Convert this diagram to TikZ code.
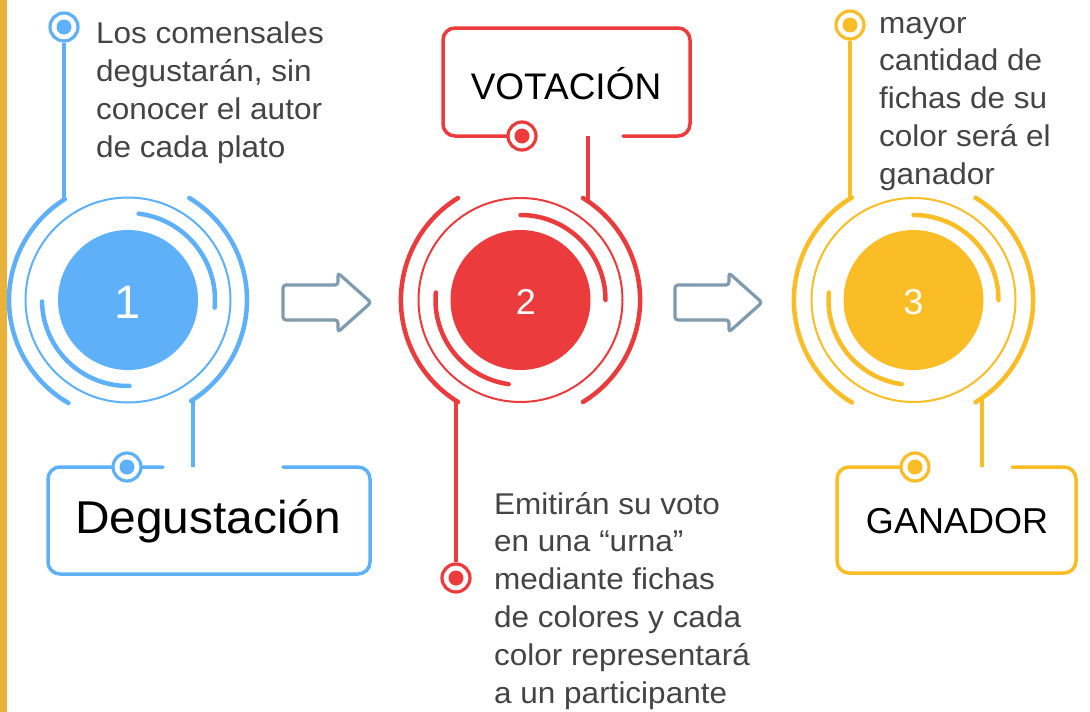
\documentclass[tikz,border=0pt]{standalone}
\usepackage{fontspec}
\setmainfont{Liberation Sans}
\newfontfamily\descfont[FakeStretch=1.05]{Liberation Sans}
\newfontfamily\degfont[FakeStretch=1.04]{Liberation Sans}
\definecolor{cblue}{HTML}{5EB1F8}
\definecolor{cred}{HTML}{EB3B3D}
\definecolor{cyel}{HTML}{FBBD26}
\definecolor{cgold}{HTML}{E9B23B}
\definecolor{cgray}{HTML}{444444}
\definecolor{carrow}{HTML}{7F9BB0}
\begin{document}
\begin{tikzpicture}[x=1pt,y=-1pt,
  outerarc/.style={line width=4.5pt, line cap=round},
  innerarc/.style={line width=4.5pt, line cap=round},
  thinring/.style={line width=2pt},
  conn/.style={line width=3.5pt},
  boxline/.style={line width=3.5pt, rounded corners=12pt, line cap=round},
  bigdisc/.style={circle, fill=#1, minimum size=140pt, inner sep=0pt},
  numtext/.style={text=white, inner sep=0pt},
  dotmark/.style={circle, draw=#1, fill=white, line width=3.2pt, minimum size=28pt, inner sep=0pt,
    path picture={\fill[#1] (path picture bounding box.center) circle (7.5pt);}},
  desc/.style={anchor=base west, align=left, inner sep=0pt, text=cgray,
    font=\descfont\fontsize{30}{37.8}\selectfont},
  boxlabel/.style={inner sep=0pt, text=black},
  arrowshape/.style={draw=carrow, line width=3.2pt, rounded corners=3pt}
]
\useasboundingbox (0,0) rectangle (1090,712);
\fill[white] (0,0) rectangle (1090,712);
\fill[cgold] (0,0) rectangle (7,712);

% ---------- Step 1 (blue) ----------
\node[bigdisc=cblue] (c1) at (128,300) {};
\node[numtext, font=\fontsize{47}{47}\selectfont] (n1) at (128,302) {1};
\draw[thinring, cblue] (c1.center) circle[radius=102.5];
\draw[outerarc, cblue] (c1.center) ++(-122:119) arc[start angle=-122, end angle=-240, radius=119];
\draw[outerarc, cblue] (c1.center) ++(58:119) arc[start angle=58, end angle=-59, radius=119];
\draw[innerarc, cblue] (c1.center) ++(5:87) arc[start angle=5, end angle=-83, radius=87];
\draw[innerarc, cblue] (c1.center) ++(-181:86) arc[start angle=-181, end angle=-271, radius=86];
\coordinate (a1t) at (64,199.7);
\coordinate (a1b) at (193,399.7);
\coordinate (g1) at (193,467);
\node[dotmark=cblue] (d1) at (64,27) {};
\draw[conn, cblue] (d1) -- (a1t);
\draw[conn, cblue] (a1b) -- (g1);
\draw[boxline, cblue] (163,467) -- (48,467) -- (48,574) -- (370,574) -- (370,467) -- (283,467);
\node[dotmark=cblue] (bd1) at (127,467) {};
\node[boxlabel, font=\degfont\fontsize{46}{46}\selectfont] (b1) at (208,521) {Degustación};
\node[desc] (t1) at (96,157.3) {Los comensales\\degustarán, sin\\conocer el autor\\de cada plato};

% ---------- Step 2 (red) ----------
\node[bigdisc=cred] (c2) at (520.5,300) {};
\node[numtext, font=\fontsize{36}{36}\selectfont] (n2) at (526,302) {2};
\draw[thinring, cred] (c2.center) circle[radius=102];
\draw[outerarc, cred] (c2.center) ++(-121.5:119.6) arc[start angle=-121.5, end angle=-238.5, radius=119.6];
\draw[outerarc, cred] (c2.center) ++(58.5:119.6) arc[start angle=58.5, end angle=-58.5, radius=119.6];
\draw[innerarc, cred] (c2.center) ++(0:85) arc[start angle=0, end angle=-90, radius=85];
\draw[innerarc, cred] (c2.center) ++(-175:85) arc[start angle=-175, end angle=-262, radius=85];
\coordinate (a2t) at (588,201.3);
\coordinate (g2) at (588,136);
\coordinate (a2b) at (456,400.7);
\draw[boxline, cred] (522,136) -- (443,136) -- (443,28) -- (690,28) -- (690,136) -- (623,136);
\node[dotmark=cred] (bd2) at (522,136) {};
\node[boxlabel, font=\fontsize{37}{37}\selectfont] (b2) at (566,84) {VOTACIÓN};
\draw[conn, cred] (g2) -- (a2t);
\node[dotmark=cred] (d2) at (456,578) {};
\draw[conn, cred] (a2b) -- (d2);
\node[desc] (t2) at (494,703) {Emitirán su voto\\en una “urna”\\mediante fichas\\de colores y cada\\color representará\\a un participante};

% ---------- Step 3 (yellow) ----------
\node[bigdisc=cyel] (c3) at (913.5,300) {};
\node[numtext, font=\fontsize{36}{36}\selectfont] (n3) at (913.5,302) {3};
\draw[thinring, cyel] (c3.center) circle[radius=102];
\draw[outerarc, cyel] (c3.center) ++(-121:119.6) arc[start angle=-121, end angle=-239, radius=119.6];
\draw[outerarc, cyel] (c3.center) ++(58.8:119.6) arc[start angle=58.8, end angle=-58.8, radius=119.6];
\draw[innerarc, cyel] (c3.center) ++(0:85) arc[start angle=0, end angle=-90, radius=85];
\draw[innerarc, cyel] (c3.center) ++(-175:85) arc[start angle=-175, end angle=-262, radius=85];
\coordinate (a3t) at (850,198.6);
\coordinate (a3b) at (982,398);
\coordinate (g3) at (982,467);
\node[dotmark=cyel] (d3) at (850,25) {};
\draw[conn, cyel] (d3) -- (a3t);
\draw[conn, cyel] (a3b) -- (g3);
\draw[boxline, cyel] (915,467) -- (837,467) -- (837,573) -- (1076,573) -- (1076,467) -- (1012,467);
\node[dotmark=cyel] (bd3) at (915,467) {};
\node[boxlabel, font=\fontsize{36}{36}\selectfont] (b3) at (957,521) {GANADOR};
\node[desc] (t3) at (879,184.2) {mayor\\cantidad de\\fichas de su\\color será el\\ganador};

% ---------- Arrows ----------
\draw[arrowshape] (283,285) -- (338,285) -- (338,273) -- (371,302.5) -- (338,332) -- (338,320) -- (283,320) -- cycle;
\draw[arrowshape] (675,285) -- (729,285) -- (729,273) -- (762,302.5) -- (729,332) -- (729,320) -- (675,320) -- cycle;
\end{tikzpicture}
\end{document}
